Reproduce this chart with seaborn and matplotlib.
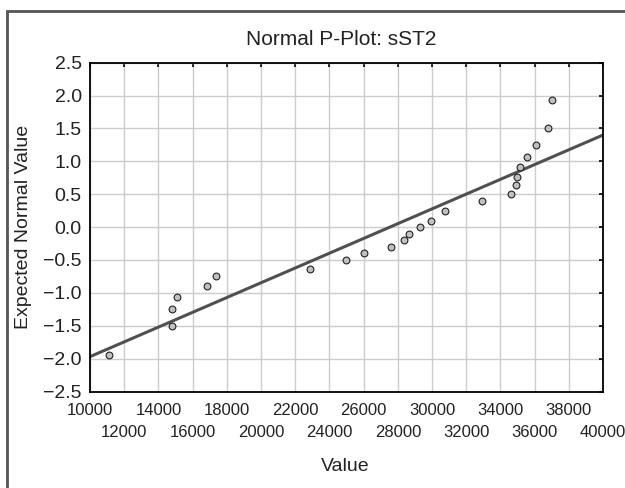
import numpy as np
import pandas as pd
import seaborn as sns
from matplotlib import pyplot as plt
from matplotlib.patches import Rectangle

# values
value = [11120, 14800, 14800, 15080, 16860, 17370, 22890, 24940, 26045,
         27600, 28380, 28625, 29318, 29925, 30760, 32906, 34638, 34895,
         34971, 35146, 35573, 36082, 36766, 37035]
expected = [-1.94, -1.50, -1.25, -1.06, -0.90, -0.75, -0.64, -0.505, -0.395,
            -0.305, -0.198, -0.106, 0.0, 0.091, 0.243, 0.40, 0.51, 0.643,
            0.755, 0.907, 1.064, 1.24, 1.50, 1.925]
line_x = [10000, 40000]
line_y = [-1.97, 1.40]

# tick labels are staggered on two rows
x_ticks_row1 = [10000, 14000, 18000, 22000, 26000, 30000, 34000, 38000]
x_ticks_row2 = [12000, 16000, 20000, 24000, 28000, 32000, 36000, 40000]
y_ticks = [-2.5, -2.0, -1.5, -1.0, -0.5, 0.0, 0.5, 1.0, 1.5, 2.0, 2.5]

df = pd.DataFrame({"Value": value, "Expected": expected})
df_line = pd.DataFrame({"x": line_x, "y": line_y})

sns.set_style("white")
plt.rcParams['font.family'] = ['Liberation Sans', 'DejaVu Sans']

fig = plt.figure(figsize=(6.25, 4.88), dpi=100)
ax = fig.add_axes([0.144, 0.1977, 0.821, 0.674])

sns.lineplot(data=df_line, x="x", y="y", color='#505050', linewidth=2.2, ax=ax, zorder=2)
sns.scatterplot(data=df, x="Value", y="Expected", s=24, color='#c0c0c0',
                edgecolor='#222222', linewidth=0.8, ax=ax, zorder=3)

ax.set_xlim(10000, 40000)
ax.set_ylim(-2.5, 2.5)
ax.set_xticks(x_ticks_row1)
ax.set_xticklabels([str(t) for t in x_ticks_row1], fontsize=12, color='#222222')
ax.set_xticks(x_ticks_row2, minor=True)
ax.set_xticklabels([str(t) for t in x_ticks_row2], minor=True, fontsize=12, color='#222222')
ax.set_yticks(y_ticks)
ax.set_yticklabels([("%.1f" % t).replace("-", "\u2212") for t in y_ticks],
                   fontsize=14, color='#222222')

ax.grid(True, which='both', color='#cccccc', linewidth=1.0, zorder=0)
ax.set_axisbelow(True)

ax.tick_params(which='both', direction='in', length=3, width=1.2, color='black',
               top=True, right=True)
ax.tick_params(axis='x', which='major', pad=8)
ax.tick_params(axis='x', which='minor', pad=24)
ax.tick_params(axis='y', pad=6)
for s in ax.spines.values():
    s.set_color('black')
    s.set_linewidth(1.3)

ax.set_xlabel("Value", fontsize=14, color='#222222')
ax.xaxis.label.set_va('center')
ax.xaxis.set_label_coords(0.497, -0.2265)
ax.set_ylabel("Expected Normal Value", fontsize=14, color='#222222')
ax.yaxis.label.set_va('center')
ax.yaxis.set_label_coords(-0.1296, 0.5)
ax.text(0.49, 1.069, "Normal P-Plot: sST2", transform=ax.transAxes, fontsize=15,
        color='#222222', ha='center', va='center')

fig.patches.append(Rectangle((0.0112, -0.1), 1.2, 0.9775 + 0.1, transform=fig.transFigure,
                             fill=False, edgecolor='#555555', linewidth=2))

fig.savefig("out.png", dpi=100)
